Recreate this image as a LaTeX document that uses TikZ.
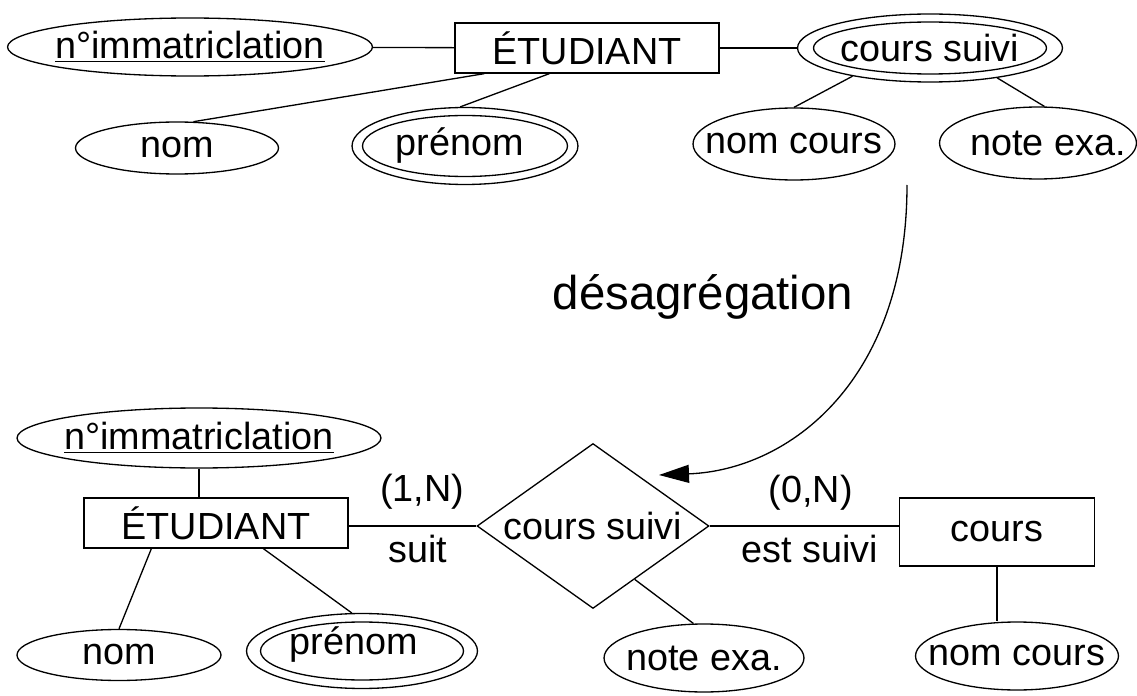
\documentclass[tikz,border=0pt]{standalone}
\usepackage{fontspec}
\setmainfont{Liberation Sans}
\usepackage{tikz}
\usetikzlibrary{arrows.meta, shapes.geometric, calc}
\newcommand{\erfont}{\fontsize{21.5}{25}\selectfont}
\newcommand{\bigfont}{\fontsize{27}{32}\selectfont}

\begin{document}
\begin{tikzpicture}[
  x=0.02cm, y=-0.02cm, line width=0.75pt,
  entity/.style={draw, rectangle, inner sep=0pt, font=\erfont},
  attr/.style={draw, ellipse, inner sep=0pt},
  rel/.style={draw, diamond, inner sep=0pt},
  lbl/.style={font=\erfont, inner sep=0pt},
  txt/.style={label={[lbl]center:#1}},
  arr/.style={-{Triangle[length=6mm, width=3.6mm]}}
]
  \useasboundingbox (0,0) rectangle (1137,696);

  % schema avant
  \node[attr, minimum width=7.3cm, minimum height=1.16cm, txt={\underline{n°immatriclation}}] (immat1) at (190,47) {};
  \node[entity, minimum width=5.28cm, minimum height=1cm] (etu1) at (587,48) {ÉTUDIANT};
  \node[attr, minimum width=5.3cm, minimum height=1.36cm, txt={cours suivi}] (cs1) at (930,48) {};
  \node[attr, minimum width=4.66cm, minimum height=1.04cm] (cs1in) at (cs1.center) {};
  \node[attr, minimum width=4.06cm, minimum height=1.04cm, txt=nom] (nom1) at (177,148) {};
  \node[attr, minimum width=4.52cm, minimum height=1.54cm,
    label={[lbl, xshift=-0.1cm]center:prénom}] (pre1) at (465,146) {};
  \node[attr, minimum width=4.1cm, minimum height=1.22cm] (pre1in) at (pre1.center) {};
  \node[attr, minimum width=4.04cm, minimum height=1.44cm, txt={nom cours}] (nc1) at (794,144) {};
  \node[attr, minimum width=3.94cm, minimum height=1.44cm,
    label={[lbl, xshift=0.2cm]center:note exa.}] (ne1) at (1038,143) {};

  \draw (immat1) -- (etu1);
  \draw (etu1) -- (cs1);
  \draw ($(etu1.south west)+(30,0)$) -- (nom1.58);
  \draw ($(etu1.south west)+(95,0)$) -- (pre1.97);
  \draw (cs1.200) -- (nc1.north);
  \draw (cs1.-24) -- (ne1.80);

  % transformation
  \node[font=\bigfont, inner sep=0pt] (dsg) at (703,297) {désagrégation};
  \coordinate (dsgstart) at (907,185);
  \coordinate (dsgend) at (659,475);
  \draw[arr] (dsgstart) .. controls (907,380) and (790,470) .. (dsgend);

  % schema apres
  \node[attr, minimum width=7.28cm, minimum height=1.2cm, txt={\underline{n°immatriclation}}] (immat2) at (199,438) {};
  \node[entity, minimum width=5.28cm, minimum height=1cm] (etu2) at (216,523) {ÉTUDIANT};
  \node[attr, minimum width=4.08cm, minimum height=1.02cm, txt=nom] (nom2) at (119,655) {};
  \node[attr, minimum width=4.62cm, minimum height=1.5cm,
    label={[lbl, xshift=-0.16cm, yshift=0.12cm]center:prénom}] (pre2) at (362,651) {};
  \node[attr, minimum width=4.06cm, minimum height=1.16cm] (pre2in) at (pre2.center) {};
  \node[rel, minimum width=4.64cm, minimum height=3.3cm, txt={cours suivi}] (dia) at (593,526) {};
  \node[entity, minimum width=3.9cm, minimum height=1.36cm] (cours) at (997,532) {cours};
  \node[attr, minimum width=4.06cm, minimum height=1.36cm, txt={nom cours}] (nc2) at (1017,656) {};
  \node[attr, minimum width=4cm, minimum height=1.36cm, txt={note exa.}] (ne2) at (704,658) {};

  \draw (immat2.south) -- (immat2.south |- etu2.north);
  \draw ($(etu2.south west)+(68,0)$) -- (nom2.north);
  \draw ($(etu2.south west)+(180,0)$) -- (pre2.105);
  \draw (etu2.east |- dia.west) -- node[lbl, above=0.33cm, xshift=0.19cm] {(1,N)}
    node[lbl, below=0.16cm, xshift=0.11cm] {suit} (dia.west);
  \draw (dia.east) -- node[lbl, above=0.3cm, xshift=0.13cm] {(0,N)}
    node[lbl, below=0.16cm, xshift=0.11cm] {est suivi} (dia.east -| cours.west);
  \draw (dia.-52) -- (ne2.107);
  \draw (cours.south) -- (cours.south |- nc2.north);
\end{tikzpicture}
\end{document}
